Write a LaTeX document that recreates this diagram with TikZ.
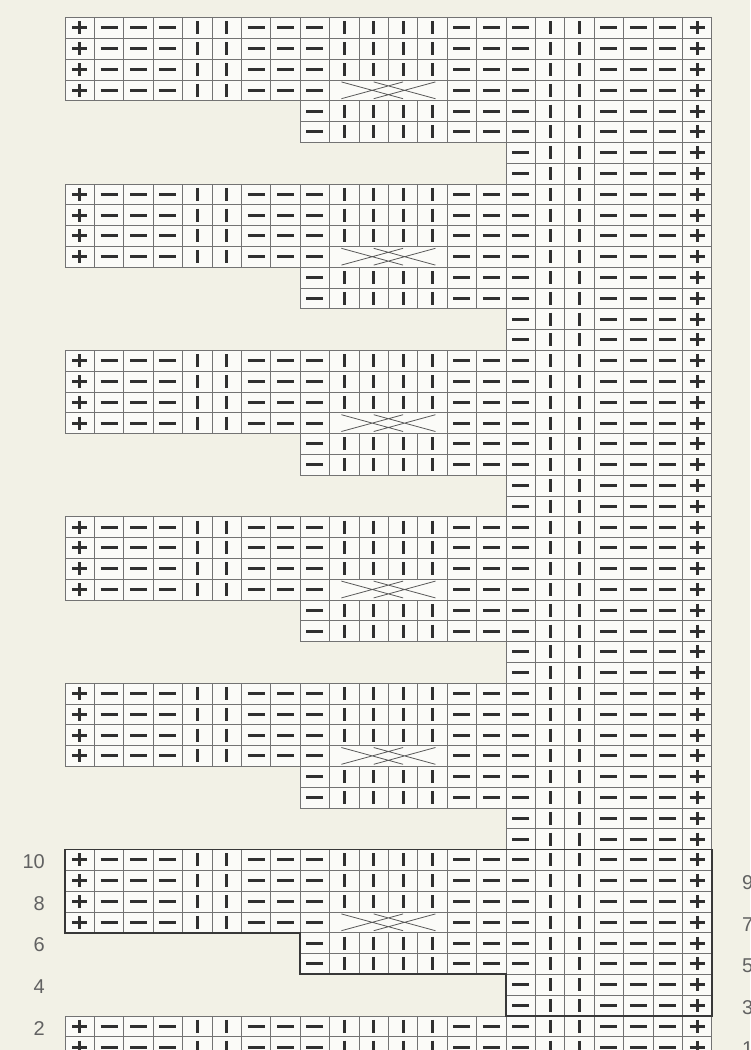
\documentclass[tikz,border=0pt]{standalone}
\usepackage{fontspec}
\setmainfont{Liberation Sans}
\definecolor{paper}{HTML}{F2F1E6}
\definecolor{cellbg}{HTML}{FBFBF8}
\definecolor{ink}{HTML}{303030}
\newcommand{\cellw}{29.4}
\newcommand{\cellh}{20.8}
\newcommand{\chartx}{65}
\newcommand{\charty}{17.5}
\tikzset{
  gridcell/.style={draw=black!55,line width=0.7pt,fill=cellbg},
  stitch/.style={draw=ink,line width=3.1pt},
  cabline/.style={draw=black!65,line width=0.8pt},
  outline/.style={draw=black!78,line width=1.8pt},
  rowno/.style={font=\fontsize{20}{20}\selectfont,text=black!62,inner sep=0pt}
}
\begin{document}
\begin{tikzpicture}[x=1pt,y=-1pt]
\fill[paper] (0,0) rectangle (750,1050);
\useasboundingbox (0,0) rectangle (750,1050);
\begin{scope}
\clip (0,0) rectangle (750,1050);
% chart rows: 8-row repeat, then two full rows
\foreach \i in {0,...,49}{
  \pgfmathtruncatemacro{\brow}{mod(\i,8)}
  \pgfmathtruncatemacro{\startc}{\i>47 ? 1 : (\brow<4 ? 1 : (\brow<6 ? 9 : 16))}
  \pgfmathtruncatemacro{\cabrow}{and(\i<48,\brow==3) ? 1 : 0}
  \pgfmathsetmacro{\ytop}{\charty+\i*\cellh}
  \pgfmathsetmacro{\ym}{\ytop+\cellh/2}
  \foreach \c/\s in {1/p,2/m,3/m,4/m,5/k,6/k,7/m,8/m,9/m,10/k,11/k,
                     12/k,13/k,14/m,15/m,16/m,17/k,18/k,19/m,20/m,21/m,22/p}{
    \pgfmathtruncatemacro{\inX}{and(\cabrow==1,and(\c>9,\c<14)) ? 1 : 0}
    \ifnum\c<\startc\else\ifnum\inX=0
      \pgfmathsetmacro{\xl}{\chartx+(\c-1)*\cellw}
      \pgfmathsetmacro{\xm}{\xl+\cellw/2}
      \path[gridcell] (\xl,\ytop) rectangle ++(\cellw,\cellh);
      \if p\s \draw[stitch] (\xm-7.5,\ym) -- (\xm+7.5,\ym) (\xm,\ym-6.5) -- (\xm,\ym+6.5); \fi
      \if m\s \draw[stitch] (\xm-8.5,\ym) -- (\xm+8.5,\ym); \fi
      \if k\s \draw[stitch] (\xm,\ym-6.5) -- (\xm,\ym+6.5); \fi
    \fi\fi
  }
  % cable cross over four stitches
  \ifnum\cabrow=1
    \pgfmathsetmacro{\xc}{\chartx+9*\cellw}
    \path[gridcell] (\xc,\ytop) rectangle ++(4*\cellw,\cellh);
    \draw[cabline] (\xc+0.4*\cellw,\ytop+2) -- (\xc+2.5*\cellw,\ytop+\cellh-2)
                   (\xc+1.5*\cellw,\ytop+2) -- (\xc+3.6*\cellw,\ytop+\cellh-2)
                   (\xc+2.5*\cellw,\ytop+2) -- (\xc+0.4*\cellw,\ytop+\cellh-2)
                   (\xc+3.6*\cellw,\ytop+2) -- (\xc+1.5*\cellw,\ytop+\cellh-2);
  \fi
}
% repeat outline
\draw[outline] ({\chartx},{\charty+40*\cellh}) -- ({\chartx+22*\cellw},{\charty+40*\cellh})
  -- ({\chartx+22*\cellw},{\charty+48*\cellh}) -- ({\chartx+15*\cellw},{\charty+48*\cellh})
  -- ({\chartx+15*\cellw},{\charty+46*\cellh}) -- ({\chartx+8*\cellw},{\charty+46*\cellh})
  -- ({\chartx+8*\cellw},{\charty+44*\cellh}) -- ({\chartx},{\charty+44*\cellh}) -- cycle;
% row numbers
\foreach \n/\i in {10/40,8/42,6/44,4/46,2/48}
  \node[rowno,anchor=east] (left\n) at (45,{\charty+(\i+0.5)*\cellh+2}) {\n};
\foreach \n/\i in {9/41,7/43,5/45,3/47,1/49}
  \node[rowno,anchor=west] (right\n) at (742,{\charty+(\i+0.5)*\cellh+2}) {\n};
\end{scope}
\end{tikzpicture}
\end{document}
